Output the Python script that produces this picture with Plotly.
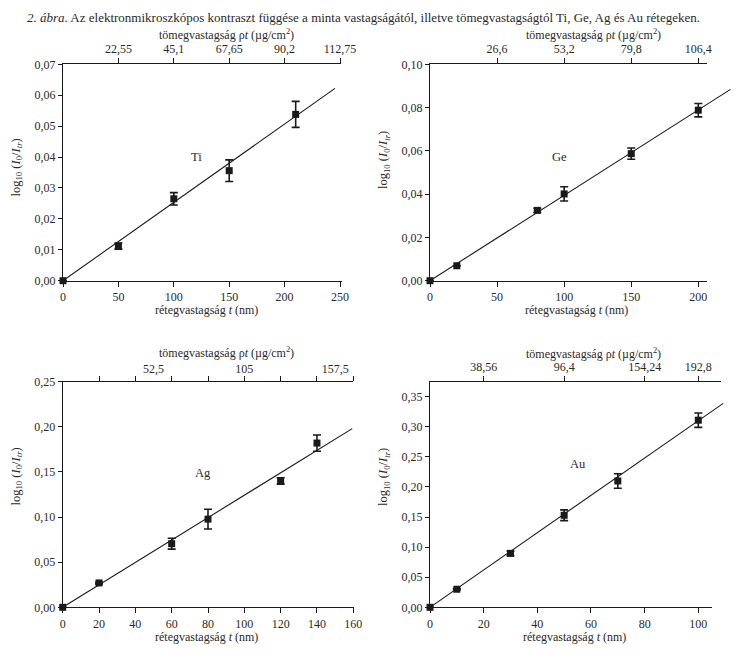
import plotly.graph_objects as go

# ---------------- data ----------------
ti_t = [0, 50, 100, 150, 210]
ti_y = [0.0, 0.0112, 0.0265, 0.0356, 0.0538]
ti_err = [0.0, 0.001, 0.002, 0.0035, 0.0042]
ti_fit_t = [0, 245.5]
ti_fit_y = [0.0, 0.0622]

ge_t = [0, 20, 80, 100, 150, 200]
ge_y = [0.0, 0.0069, 0.0325, 0.0401, 0.0587, 0.0788]
ge_err = [0.0, 0.0, 0.001, 0.0033, 0.0026, 0.0031]
ge_fit_t = [0, 224]
ge_fit_y = [0.0, 0.0884]

ag_t = [0, 20, 60, 80, 120, 140]
ag_y = [0.0, 0.027, 0.0705, 0.0977, 0.140, 0.182]
ag_err = [0.0, 0.001, 0.006, 0.011, 0.0035, 0.009]
ag_fit_t = [0, 159.4]
ag_fit_y = [0.0, 0.198]

au_t = [0, 10, 30, 50, 70, 100]
au_y = [0.0, 0.030, 0.0897, 0.153, 0.210, 0.311]
au_err = [0.0, 0.001, 0.004, 0.009, 0.012, 0.012]
au_fit_t = [0, 109.3]
au_fit_y = [0.0, 0.339]

ti_top_vals = [50, 100, 150, 200, 250]
ti_top_text = ["22,55", "45,1", "67,65", "90,2", "112,75"]
ge_top_vals = [50, 100, 150, 200]
ge_top_text = ["26,6", "53,2", "79,8", "106,4"]
ag_top_ticks = [20, 40, 60, 80, 100, 120, 140, 160]
ag_top_vals = [50, 100, 150]
ag_top_text = ["52,5", "105", "157,5"]
au_top_vals = [20, 50, 80, 100]
au_top_text = ["38,56", "96,4", "154,24", "192,8"]

element_names = ["Ti", "Ge", "Ag", "Au"]

# ---------------- layout helpers ----------------
W, H = 749, 655
OFF = 8  # page body margin
FONT = "Liberation Serif"
TXT = "#2a2a2a"
AX = "#1a1a1a"


def fx(p):
    return (p - OFF) / W


def fy(p):
    return 1 - (p - OFF) / H


panels = [
    dict(t=ti_t, y=ti_y, err=ti_err, ft=ti_fit_t, fyv=ti_fit_y,
         left=63.0, bright=341.5, tright=340.7, ytop=64.3, ybot=280.7, ppu=277.0 / 250,
         yr=[0, 0.07], ydt=0.01, xdt=50, topv=ti_top_vals, topt=ti_top_text,
         lab=(120.6, 0.0401), ytx=16.5, yty=168, ttx=226, tty=35, btx=206, bty=310),
    dict(t=ge_t, y=ge_y, err=ge_err, ft=ge_fit_t, fyv=ge_fit_y,
         left=430.0, bright=707.3, tright=707.3, ytop=64.3, ybot=280.7, ppu=268.3 / 200,
         yr=[0, 0.10], ydt=0.02, xdt=50, topv=ge_top_vals, topt=ge_top_text,
         lab=(96.2, 0.0573), ytx=384, yty=160, ttx=593, tty=35, btx=576, bty=310),
    dict(t=ag_t, y=ag_y, err=ag_err, ft=ag_fit_t, fyv=ag_fit_y,
         left=62.7, bright=354.0, tright=353.3, ytop=381.7, ybot=607.3, ppu=290.6 / 160,
         yr=[0, 0.25], ydt=0.05, xdt=20, topv=ag_top_vals, topt=ag_top_text,
         lab=(77.4, 0.1485), ytx=16.5, yty=477, ttx=226, tty=352, btx=206, bty=637),
    dict(t=au_t, y=au_y, err=au_err, ft=au_fit_t, fyv=au_fit_y,
         left=430.0, bright=711.7, tright=720.7, ytop=381.7, ybot=607.3, ppu=268.3 / 100,
         yr=[0, 0.375], ydt=0.05, xdt=20, topv=au_top_vals, topt=au_top_text,
         lab=(55.3, 0.2377), ytx=384, yty=477, ttx=593, tty=353, btx=574, bty=637),
]

tickfont = dict(family=FONT, size=12, color=TXT)
fig = go.Figure()
layout = {}
annotations = []

ytitle = "log<sub>10</sub> (<i>I</i><sub>0</sub>/<i>I</i><sub><i>tr</i></sub>)"
ttitle = "tömegvastagság ρ<i>t</i> (µg/cm<sup>2</sup>)"
btitle = "rétegvastagság <i>t</i> (nm)"


def xn(n):
    return "xaxis" if n == 1 else f"xaxis{n}"


def yn(n):
    return "yaxis" if n == 1 else f"yaxis{n}"


def xr(n):
    return "x" if n == 1 else f"x{n}"


def yr_(n):
    return "y" if n == 1 else f"y{n}"


def txt_ann(x, y, text, size=12, angle=0, xanchor="center", yanchor="middle"):
    return dict(x=x, y=y, xref="paper", yref="paper", text=text, showarrow=False,
                textangle=angle, xanchor=xanchor, yanchor=yanchor,
                font=dict(family=FONT, size=size, color=TXT))


for i, p in enumerate(panels):
    k = i + 1
    ydom = [fy(p["ybot"]), fy(p["ytop"])]
    common = dict(showgrid=False, zeroline=False, showline=True, linecolor=AX, linewidth=1.2,
                  tickcolor=AX, tickwidth=1.2, ticks="outside", tickfont=tickfont,
                  fixedrange=True, automargin=False)
    # bottom x
    layout[xn(k)] = dict(common, domain=[fx(p["left"]), fx(p["bright"])],
                         range=[0, (p["bright"] - p["left"]) / p["ppu"]],
                         anchor=yr_(k), side="bottom", ticklen=5, tick0=0, dtick=p["xdt"])
    # left y
    layout[yn(k)] = dict(common, domain=ydom, range=p["yr"], anchor=xr(k), side="left",
                         ticklen=4, tick0=0, dtick=p["ydt"], tickformat=".2f")
    # top x
    trange = [0, (p["tright"] - p["left"]) / p["ppu"]]
    tdom = [fx(p["left"]), fx(p["tright"])]
    if i == 2:
        layout[xn(k + 4)] = dict(common, domain=tdom, range=trange, anchor=yr_(k), side="top",
                                 ticklen=5, tickmode="array", tickvals=ag_top_ticks,
                                 ticktext=["" for _ in ag_top_ticks])
        layout[xn(13)] = dict(showgrid=False, zeroline=False, showline=False, ticks="",
                              domain=tdom, range=trange, anchor=yr_(k), side="top",
                              tickmode="array", tickvals=p["topv"], ticktext=p["topt"],
                              tickfont=tickfont, ticklabelstandoff=5, fixedrange=True,
                              automargin=False)
        fig.add_trace(go.Scatter(x=[None], y=[None], xaxis=xr(13), yaxis=yr_(k),
                                 showlegend=False, hoverinfo="skip", mode="markers"))
    else:
        layout[xn(k + 4)] = dict(common, domain=tdom, range=trange, anchor=yr_(k), side="top",
                                 ticklen=5, tickmode="array", tickvals=p["topv"],
                                 ticktext=p["topt"])
    fig.add_trace(go.Scatter(x=[None], y=[None], xaxis=xr(k + 4), yaxis=yr_(k),
                             showlegend=False, hoverinfo="skip", mode="markers"))
    # hidden wide axis for the fit line (line extends beyond the frame)
    layout[xn(k + 8)] = dict(domain=[fx(p["left"]), fx(745)],
                             range=[0, (745 - p["left"]) / p["ppu"]],
                             anchor=yr_(k), visible=False, fixedrange=True, automargin=False)

    fig.add_trace(go.Scatter(x=p["ft"], y=p["fyv"], mode="lines",
                             line=dict(color="#1a1a1a", width=1.1),
                             xaxis=xr(k + 8), yaxis=yr_(k), showlegend=False,
                             hoverinfo="skip"))
    fig.add_trace(go.Scatter(x=p["t"], y=p["y"], mode="markers",
                             marker=dict(symbol="square", size=7, color="#1a1a1a"),
                             error_y=dict(type="data", array=p["err"], visible=True,
                                          color="#1a1a1a", thickness=1.6, width=4),
                             cliponaxis=False, xaxis=xr(k), yaxis=yr_(k),
                             showlegend=False, name=element_names[i]))

    annotations.append(dict(x=p["lab"][0], y=p["lab"][1], xref=xr(k), yref=yr_(k),
                            text=element_names[i], showarrow=False,
                            xanchor="center", yanchor="middle",
                            font=dict(family=FONT, size=12.5, color=TXT)))
    annotations.append(txt_ann(fx(p["ytx"]), fy(p["yty"]), ytitle, size=12.5, angle=-90))
    annotations.append(txt_ann(fx(p["ttx"]), fy(p["tty"]), ttitle))
    annotations.append(txt_ann(fx(p["btx"]), fy(p["bty"]), btitle))

annotations.append(txt_ann(fx(25), 1.0,
                           "<i>2. ábra</i>. Az elektronmikroszkópos kontraszt függése a minta "
                           "vastagságától, illetve tömegvastagságtól Ti, Ge, Ag és Au rétegeken.",
                           size=13, xanchor="left", yanchor="top"))

fig.update_layout(**layout)
fig.update_layout(width=W, height=H, margin=dict(l=0, r=0, t=0, b=0, autoexpand=False),
                  paper_bgcolor="white", plot_bgcolor="rgba(0,0,0,0)",
                  separators=", ", annotations=annotations, showlegend=False,
                  font=dict(family=FONT, color=TXT))

fig.write_html("out.html")
